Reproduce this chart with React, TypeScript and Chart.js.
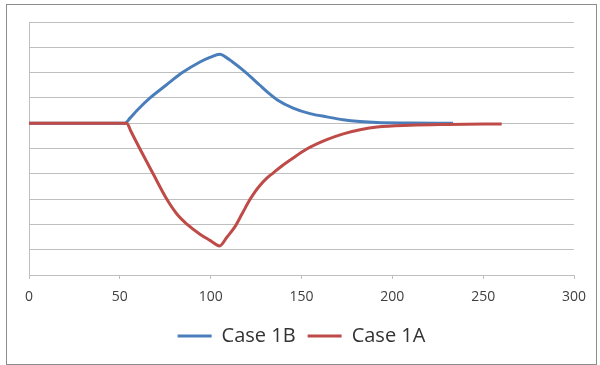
import React, { useEffect, useRef } from "react";
import { Chart, registerables } from "chart.js";

Chart.register(...registerables);

const caseBX = [0, 52.8, 55.6, 59.4, 66.6, 75.4, 84.2, 94.1, 99.6, 105.1, 107.9, 111.7, 117.8, 121.6, 127.1, 131.6, 136.5, 145.4, 154.7, 164, 172.9, 182.2, 191.6, 209.7, 233.4];
const caseBY = [0, 0, 0.2, 0.5, 1.0, 1.5, 1.99, 2.42, 2.6, 2.73, 2.63, 2.44, 2.1, 1.86, 1.5, 1.21, 0.93, 0.6, 0.38, 0.25, 0.14, 0.07, 0.03, 0.01, 0];

const caseAX = [0, 53.8, 56.1, 61.1, 68.4, 75.8, 81.5, 87.1, 94.1, 99.6, 104.9, 109.0, 113.4, 117.3, 121.6, 124.3, 127.1, 130.5, 134.5, 139, 143.7, 152.9, 163.9, 173.0, 182.2, 191.6, 209.7, 230.1, 260.2];
const caseAY = [0, 0, -0.32, -1.02, -2.01, -3.0, -3.6, -4.0, -4.39, -4.63, -4.85, -4.5, -4.09, -3.58, -3.02, -2.72, -2.46, -2.2, -1.96, -1.7, -1.46, -1.02, -0.65, -0.42, -0.26, -0.15, -0.08, -0.05, -0.03];

const seriesNames = ["Case 1B", "Case 1A"];
const xTicks = [0, 50, 100, 150, 200, 250, 300];

const FONT = "'Open Sans', 'Noto Sans', sans-serif";

export default function App() {
  const ref = useRef<HTMLCanvasElement | null>(null);

  useEffect(() => {
    if (!ref.current) return;
    const toPts = (xs: number[], ys: number[]) => xs.map((x, i) => ({ x, y: ys[i] }));
    const chart = new Chart(ref.current, {
      type: "line",
      data: {
        datasets: [
          {
            label: seriesNames[0],
            data: toPts(caseBX, caseBY),
            borderColor: "#4a7ebb",
            backgroundColor: "#4a7ebb",
            borderWidth: 3,
            pointRadius: 0,
            cubicInterpolationMode: "monotone",
            order: 1,
          },
          {
            label: seriesNames[1],
            data: toPts(caseAX, caseAY),
            borderColor: "#be4b48",
            backgroundColor: "#be4b48",
            borderWidth: 3,
            pointRadius: 0,
            cubicInterpolationMode: "monotone",
            order: 0,
          },
        ],
      },
      options: {
        animation: false,
        responsive: false,
        devicePixelRatio: 1,
        layout: { padding: { left: 29, right: 26, top: 22, bottom: 9 } },
        plugins: {
          tooltip: { enabled: false },
          legend: {
            position: "bottom",
            labels: {
              usePointStyle: true,
              pointStyle: "line",
              pointStyleWidth: 34,
              padding: 12,
              color: "#333333",
              font: { family: FONT, size: 20 },
              sort: (a: any, b: any) => a.datasetIndex - b.datasetIndex,
            },
          },
        },
        scales: {
          x: {
            type: "linear",
            min: 0,
            max: 300,
            afterFit: (s: any) => {
              s.height = 39;
            },
            afterBuildTicks: (s: any) => {
              s.ticks = xTicks.map((v) => ({ value: v }));
            },
            ticks: {
              color: "#404040",
              padding: 10,
              font: { family: FONT, size: 14 },
              maxRotation: 0,
            },
            grid: {
              drawOnChartArea: false,
              drawTicks: true,
              tickLength: 4,
              color: "#bfbfbf",
            },
            border: { display: true, color: "#bfbfbf", width: 1 },
          },
          y: {
            min: -6,
            max: 4,
            afterFit: (s: any) => {
              s.width = 0;
            },
            ticks: { display: false, stepSize: 1 },
            grid: { color: "#bfbfbf", drawTicks: false },
            border: { display: true, color: "#bfbfbf", width: 1 },
          },
        },
      },
    });
    return () => chart.destroy();
  }, []);

  return (
    <div style={{ position: "fixed", left: 0, top: 0, width: 600, height: 365, background: "#ffffff" }}>
      <div
        style={{
          position: "absolute",
          left: 6,
          top: 4,
          width: 591,
          height: 361,
          boxSizing: "border-box",
          border: "1px solid #8c8c8c",
        }}
      />
      <canvas ref={ref} width={600} height={365} style={{ position: "absolute", left: 0, top: 0, display: "block" }} />
    </div>
  );
}
